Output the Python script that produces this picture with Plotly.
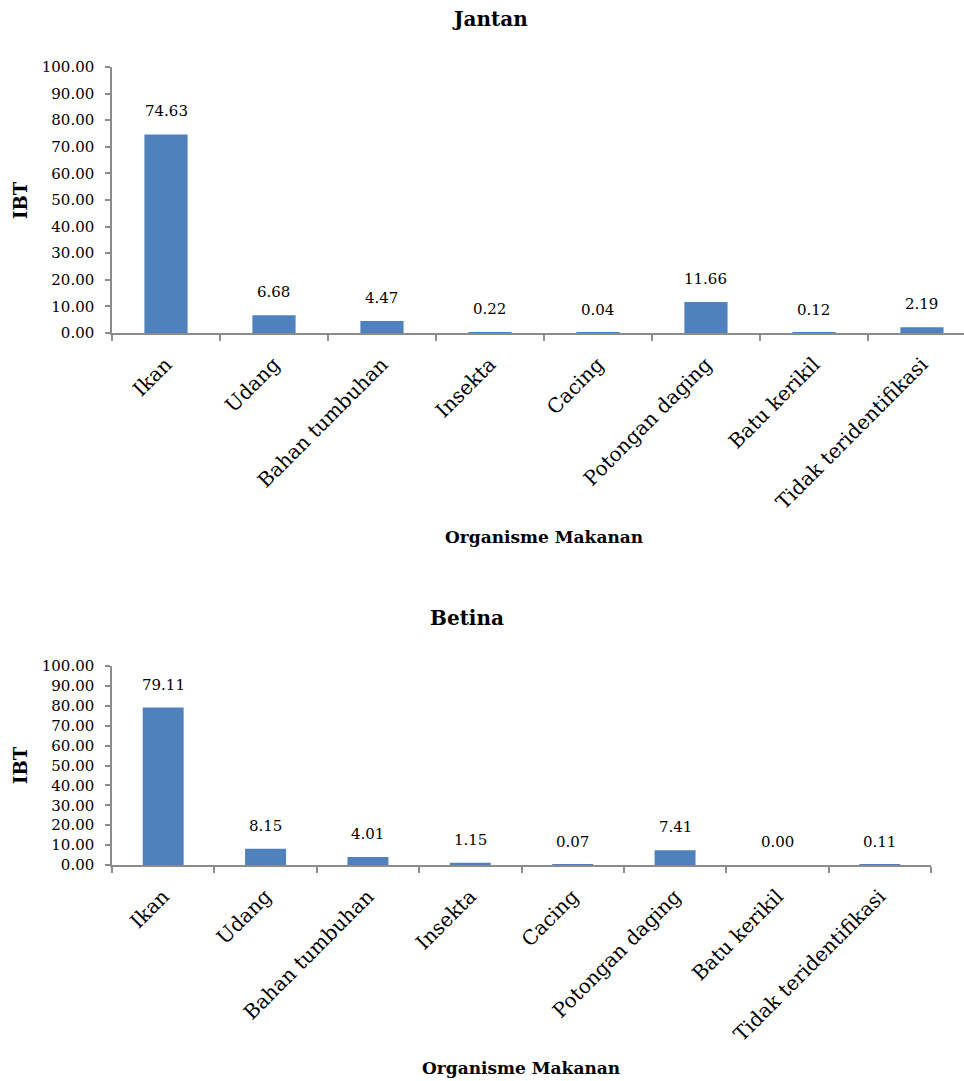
import plotly.graph_objects as go

# Food organisms (x categories)
categories = ["Ikan", "Udang", "Bahan tumbuhan", "Insekta", "Cacing",
              "Potongan daging", "Batu kerikil", "Tidak teridentifikasi"]

# Index of preponderance (IBT) per sex
ibt_jantan = [74.63, 6.68, 4.47, 0.22, 0.04, 11.66, 0.12, 2.19]
ibt_betina = [79.11, 8.15, 4.01, 1.15, 0.07, 7.41, 0.00, 0.11]

y_ticks = [0, 10, 20, 30, 40, 50, 60, 70, 80, 90, 100]

W, H = 964, 1081
FONT = "DejaVu Serif"
BAR = "#4F81BD"
AXIS = "#8C8C8C"


def px_x(v):
    return v / W


def px_y(v):
    return (H - v) / H


fig = go.Figure()

fig.add_trace(go.Bar(x=categories, y=ibt_jantan, marker=dict(color=BAR, line=dict(width=0)),
                     xaxis="x", yaxis="y", showlegend=False, hoverinfo="x+y"))
fig.add_trace(go.Bar(x=categories, y=ibt_betina, marker=dict(color=BAR, line=dict(width=0)),
                     xaxis="x2", yaxis="y2", showlegend=False, hoverinfo="x+y"))

common_x = dict(type="category", showline=True, linecolor=AXIS, linewidth=1.5,
                ticks="outside", tickson="boundaries", ticklen=6, tickcolor=AXIS,
                tickwidth=1.5, tickangle=-45, ticklabelstandoff=10,
                tickfont=dict(family=FONT, size=20, color="black"),
                showgrid=False, zeroline=False, fixedrange=True, automargin=False)
common_y = dict(range=[0, 100], tickvals=y_ticks, tickformat=".2f", showline=True,
                linecolor=AXIS, linewidth=1.5, ticks="outside", ticklen=5,
                tickcolor=AXIS, tickwidth=1.5, ticklabelstandoff=8,
                tickfont=dict(family=FONT, size=15, color="black"),
                showgrid=False, zeroline=False, fixedrange=True, automargin=False)

annotations = []
# value labels above each bar
for xa, ya, vals in (("x", "y", ibt_jantan), ("x2", "y2", ibt_betina)):
    for c, v in zip(categories, vals):
        annotations.append(dict(x=c, y=v, xref=xa, yref=ya, text=f"{v:.2f}",
                                showarrow=False, yanchor="bottom", yshift=12,
                                font=dict(family=FONT, size=15, color="black")))

title_font = dict(family=FONT, size=20, color="black")
label_font = dict(family=FONT, size=17, color="black")
ylabel_font = dict(family=FONT, size=18, color="black")

for text, x, y, font, ang in (
    ("<b>Jantan</b>", 490, 19, title_font, 0),
    ("<b>Betina</b>", 467, 618, title_font, 0),
    ("<b>Organisme Makanan</b>", 544, 537, label_font, 0),
    ("<b>Organisme Makanan</b>", 521, 1068, label_font, 0),
    ("<b>IBT</b>", 20, 200, ylabel_font, -90),
    ("<b>IBT</b>", 20, 765, ylabel_font, -90),
):
    annotations.append(dict(x=px_x(x), y=px_y(y), xref="paper", yref="paper",
                            text=text, showarrow=False, xanchor="center",
                            yanchor="middle", textangle=ang, font=font))

fig.update_layout(
    template="none",
    width=W, height=H,
    margin=dict(l=0, r=0, t=0, b=0, pad=0, autoexpand=False),
    paper_bgcolor="white", plot_bgcolor="white",
    bargap=0.6,
    xaxis=dict(common_x, domain=[px_x(112), 1.0], anchor="y",
               range=[-0.5, 7.5 - (976 - 964) / 108.5]),
    yaxis=dict(common_y, domain=[px_y(333), px_y(67)], anchor="x"),
    xaxis2=dict(common_x, domain=[px_x(112), px_x(931)], anchor="y2", range=[-0.5, 7.5]),
    yaxis2=dict(common_y, domain=[px_y(865), px_y(666)], anchor="x2"),
    annotations=annotations,
)

fig.write_html("out.html")
